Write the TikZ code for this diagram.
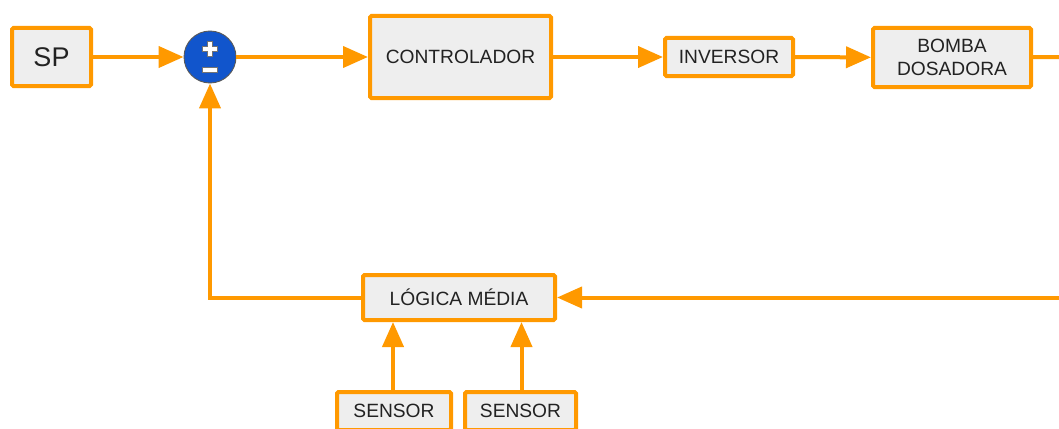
\documentclass[tikz,border=0pt]{standalone}
\usepackage{fontspec}
\setmainfont{Liberation Sans}
\usetikzlibrary{arrows.meta}
\definecolor{lineorange}{HTML}{FF9900}
\definecolor{boxgray}{HTML}{EEEEEE}
\definecolor{sumblue}{HTML}{1155CC}
\definecolor{textdark}{HTML}{222222}
\tikzset{
  block/.style={draw=lineorange, line width=4pt, fill=boxgray, rounded corners=1.5pt,
    inner sep=0pt, align=center, text=textdark, font=\fontsize{19.2}{23}\selectfont},
  sumnode/.style={circle, fill=sumblue, draw=black!65, line width=0.9pt,
    minimum size=52pt, inner sep=0pt},
  signbar/.style={fill=white, draw=black!55, line width=0.7pt},
  flow/.style={draw=lineorange, line width=4pt, -{Triangle[length=25pt,width=21pt]}},
  wire/.style={draw=lineorange, line width=4pt}
}
\begin{document}
\begin{tikzpicture}[x=1pt, y=-1pt]
  \useasboundingbox (0,0) rectangle (1059,428);
  \clip (0,0) rectangle (1059,428);

  % forward path
  \node[block, minimum width=79pt, minimum height=58pt, font=\fontsize{27}{27}\selectfont] (sp) at (51.5,57) {SP};
  \node[sumnode] (sum) at (210,57) {};
  % plus-minus sign inside the summing junction
  \path[signbar] ([shift={(-2.5,-15.5)}]sum.center) -- ++(5,0) -- ++(0,5) -- ++(5,0) -- ++(0,5)
     -- ++(-5,0) -- ++(0,5) -- ++(-5,0) -- ++(0,-5) -- ++(-5,0) -- ++(0,-5) -- ++(5,0) -- cycle;
  \path[signbar] ([shift={(-7.5,10)}]sum.center) rectangle ++(15,5);
  \node[block, minimum width=181pt, minimum height=82pt] (ctrl) at (460.5,57) {CONTROLADOR};
  \node[block, minimum width=128pt, minimum height=38pt] (inv) at (729,57) {INVERSOR};
  \node[block, minimum width=158pt, minimum height=59pt] (pump) at (952,57.5) {BOMBA\\DOSADORA};
  \coordinate (outR) at (1070,57);

  % feedback path
  \node[block, minimum width=192pt, minimum height=45pt] (avg) at (459,297.5) {LÓGICA MÉDIA};
  \coordinate (inR) at (1070,297.5);
  \coordinate (fbcorner) at (210,297.5);
  \node[block, minimum width=114pt, minimum height=38pt] (s1) at (394,411) {SENSOR};
  \node[block, minimum width=111pt, minimum height=38pt] (s2) at (520.5,411) {SENSOR};

  % connectors
  \draw[flow] (sp) -- (sum);
  \draw[flow] (sum) -- (ctrl);
  \draw[flow] (ctrl) -- (inv);
  \draw[flow] (inv) -- (pump);
  \draw[wire] (pump) -- (outR);
  \draw[flow] (inR) -- (avg);
  \draw[flow] (avg.west) -- (fbcorner) -- (sum);
  \draw[flow] ([xshift=-1pt]s1.north) -- ([xshift=-1pt]s1.north |- avg.south);
  \draw[flow] ([xshift=1pt]s2.north) -- ([xshift=1pt]s2.north |- avg.south);
\end{tikzpicture}
\end{document}
